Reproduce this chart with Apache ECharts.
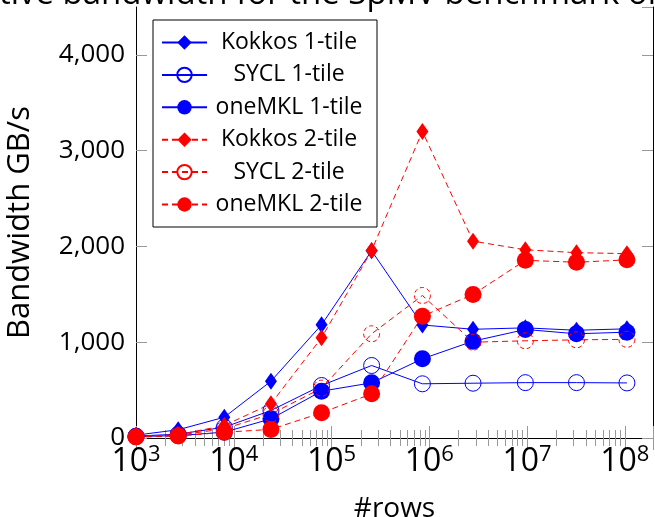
<!DOCTYPE html>
<html><head><meta charset="utf-8">
<script src="https://cdn.jsdelivr.net/npm/echarts@6/dist/echarts.min.js"></script>
<style>html,body{margin:0;padding:0;background:#fff}#c{width:655px;height:517px}</style>
</head><body><div id="c"></div>
<script>
const rows = [1000, 2700, 8000, 24000, 79000, 257000, 850000, 2800000, 9600000, 32000000, 105000000];
const kokkos1 = [30, 86, 217, 593, 1182, 1955, 1180, 1135, 1150, 1125, 1140];
const sycl1 = [20, 40, 113, 287, 548, 757, 566, 572, 578, 578, 575];
const onemkl1 = [15, 25, 61, 200, 489, 576, 827, 1011, 1133, 1088, 1105];
const kokkos2 = [15, 35, 130, 357, 1046, 1958, 3201, 2055, 1965, 1935, 1925];
const sycl2 = [15, 30, 96, 250, 520, 1088, 1488, 1000, 1015, 1025, 1030];
const onemkl2 = [10, 20, 60, 90, 263, 461, 1272, 1499, 1855, 1835, 1860];
const seriesNames = ['Kokkos 1-tile', 'SYCL 1-tile', 'oneMKL 1-tile', 'Kokkos 2-tile', 'SYCL 2-tile', 'oneMKL 2-tile'];
const titleText = 'Effective bandwidth for the SpMV benchmark on';
const xName = '#rows';
const yName = 'Bandwidth GB/s';

const FONT = '"Open Sans"';
const BLUE = '#0000ff', RED = '#ff0000';
const XMIN = 1000, XMAX = 1.94e8;

function pairs(vals) { return rows.map((r, i) => [r, vals[i]]); }

function mk(name, vals, color, kind, dashed) {
  const s = {
    name: name, type: 'line', data: pairs(vals),
    lineStyle: { color: color, width: 1, type: dashed ? [6, 4] : 'solid' },
    itemStyle: { color: color },
    emphasis: { disabled: true },
    animation: false
  };
  if (kind === 'diamond') { s.symbol = 'diamond'; s.symbolSize = [12, 17]; }
  else if (kind === 'filled') { s.symbol = 'circle'; s.symbolSize = 17; }
  else {
    s.symbol = 'circle'; s.symbolSize = 16;
    s.itemStyle = { color: 'rgba(0,0,0,0)', borderColor: color, borderWidth: 1, borderType: dashed ? [4, 3] : 'solid' };
  }
  return s;
}

function xLabel(v) {
  const e = Math.log10(v);
  const r = Math.round(e);
  if (Math.abs(e - r) > 1e-6) return '';
  return '{b|10}{s|' + r + '}';
}

const chart = echarts.init(document.getElementById('c'), null, { renderer: 'canvas' });
const tickStyle = { color: '#999', width: 1 };
chart.setOption({
  backgroundColor: '#fff',
  textStyle: { fontFamily: FONT },
  grid: { left: 136, right: 2, top: 7, bottom: 79, containLabel: false, outerBoundsMode: 'none' },
  graphic: [{
    type: 'text', left: -76, top: -22, silent: true,
    style: { text: titleText, font: '33px ' + FONT, fill: '#000' }
  }],
  legend: {
    left: 153, top: 20, orient: 'vertical',
    backgroundColor: '#fff', borderColor: '#000', borderWidth: 1, borderRadius: 0,
    padding: [11, 11, 11, 8],
    itemWidth: 45, itemHeight: 18, itemGap: 9.4,
    data: seriesNames,
    selectedMode: false,
    formatter: n => '{a|' + n + '}',
    textStyle: { fontFamily: FONT, fontSize: 23, color: '#000',
      rich: { a: { width: 154, align: 'center', fontSize: 23, lineHeight: 24, fontFamily: FONT, color: '#000' } } }
  },
  xAxis: [{
    type: 'log', logBase: 10, min: XMIN, max: XMAX,
    name: xName, nameLocation: 'middle', nameGap: 57,
    nameTextStyle: { fontSize: 28, color: '#000', fontFamily: FONT },
    axisLine: { show: true, lineStyle: { color: '#000', width: 1 } },
    axisTick: { show: true, inside: true, length: 12, lineStyle: tickStyle },
    minorTick: { show: true, splitNumber: 9, length: 8, lineStyle: tickStyle },
    splitLine: { show: false }, minorSplitLine: { show: false },
    axisLabel: { formatter: xLabel, margin: 6, showMaxLabel: false,
      rich: {
        b: { fontSize: 32, fontFamily: FONT, color: '#000' },
        s: { fontSize: 22, fontFamily: FONT, color: '#000', verticalAlign: 'top', padding: [0, 0, 14, 0] }
      } }
  }, {
    type: 'log', logBase: 10, min: XMIN, max: XMAX, position: 'top',
    axisLine: { show: true, lineStyle: { color: '#000', width: 1 } },
    axisTick: { show: true, inside: true, length: 12, lineStyle: tickStyle },
    minorTick: { show: true, splitNumber: 9, length: 8, lineStyle: tickStyle },
    splitLine: { show: false }, axisLabel: { show: false }
  }],
  yAxis: [{
    type: 'value', min: 0, max: 4500, interval: 1000,
    name: yName, nameLocation: 'middle', nameGap: 100, nameRotate: 90,
    nameTextStyle: { fontSize: 31, color: '#000', fontFamily: FONT },
    axisLine: { show: true, lineStyle: { color: '#000', width: 1 } },
    axisTick: { show: true, inside: true, length: 11, lineStyle: tickStyle },
    splitLine: { show: false },
    axisLabel: { fontSize: 26, color: '#000', fontFamily: FONT, margin: 11, showMaxLabel: false,
      formatter: v => v.toLocaleString('en-US') }
  }, {
    type: 'value', min: 0, max: 4500, interval: 1000, position: 'right',
    axisLine: { show: true, lineStyle: { color: '#000', width: 1 } },
    axisTick: { show: true, inside: true, length: 11, lineStyle: tickStyle },
    splitLine: { show: false }, axisLabel: { show: false }
  }],
  series: [
    mk(seriesNames[0], kokkos1, BLUE, 'diamond', false),
    mk(seriesNames[1], sycl1, BLUE, 'open', false),
    mk(seriesNames[2], onemkl1, BLUE, 'filled', false),
    mk(seriesNames[3], kokkos2, RED, 'diamond', true),
    mk(seriesNames[4], sycl2, RED, 'open', true),
    mk(seriesNames[5], onemkl2, RED, 'filled', true)
  ]
});
</script></body></html>
